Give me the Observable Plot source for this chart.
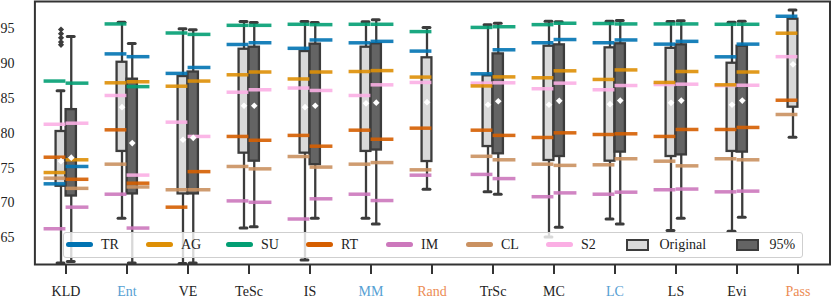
<!DOCTYPE html>
<html>
<head>
<meta charset="utf-8">
<script src="https://cdn.jsdelivr.net/npm/d3@7"></script>
<script src="https://cdn.jsdelivr.net/npm/@observablehq/plot@0.6"></script>
<style>
  html, body { margin: 0; padding: 0; background: #fff; overflow: hidden; }
  #wrap { position: relative; width: 831px; height: 298px; font-family: "Liberation Serif", "Times New Roman", serif; }
  #legend {
    position: absolute; left: 63px; top: 232px; width: 740px; height: 25.5px;
    box-sizing: border-box; border: 1.5px solid #cfcfcf; border-radius: 3px;
    background: rgba(255,255,255,0.8); display: flex; align-items: center;
    padding-left: 1.5px; font-size: 14px; color: #222;
  }
  .item { display: flex; align-items: center; width: 80px; flex: none; }
  .item.wide { width: 110px; }
  .line { width: 27px; height: 5px; border-radius: 3px; margin-right: 8.5px; flex: none; }
  .patch { width: 23px; height: 12px; box-sizing: border-box; border: 2px solid #3c3c3c; margin-right: 11px; flex: none; }
</style>
</head>
<body>
<div id="wrap"><div id="chart"></div><div id="legend"></div></div>
<script>
// ---------- data ----------
const categories = ["KLD","Ent","VE","TeSc","IS","MM","Rand","TrSc","MC","LC","LS","Evi","Pass"];
const labelColors = ["#222","#56a0d3","#222","#222","#222","#56a0d3","#ec8c54","#222","#222","#56a0d3","#222","#222","#ec8c54"];
const yTicks = [65, 70, 75, 80, 85, 90, 95];

// Original box statistics
const origLow  = [61.4, 67.8, 61.3, 66.4, 61.8, 67.8, 71.97, 71.6, 65.1, 67.7, 66.05, 65.95, 79.44];
const origQ1   = [72.4, 77.4, 71.3, 77.15, 77.15, 77.4, 75.95, 78.1, 76.1, 76.0, 76.67, 77.4, 83.75];
const origQ3   = [80.26, 90.2, 88.15, 92.07, 91.74, 92.36, 90.84, 88.25, 92.5, 92.27, 92.2, 90.06, 96.38];
const origHigh = [86.1, 95.95, 95.0, 96.05, 96.05, 96.0, 95.2, 95.6, 96.1, 96.1, 96.05, 95.95, 97.7];
const origMean = [76.0, 83.75, 79.07, 83.95, 83.75, 84.3, 84.47, 84.1, 84.1, 84.18, 84.38, 84.1, 89.9];
const kldFliers = [94.9, 94.3, 93.7, 93.1, 92.7];

// 95% box statistics
const p95Low  = [61.6, 61.4, 61.4, 66.6, 67.8, 67.0, null, 71.26, 66.5, 67.0, 67.8, 67.95, null];
const p95Q1   = [71.0, 71.3, 71.3, 76.0, 75.5, 77.6, null, 77.06, 76.67, 77.3, 76.9, 77.3, null];
const p95Q3   = [83.4, 87.77, 88.8, 92.36, 92.8, 92.85, null, 91.4, 92.7, 92.85, 92.7, 92.5, null];
const p95High = [93.9, 92.9, 94.85, 95.9, 95.9, 96.3, null, 95.8, 96.0, 96.2, 96.15, 96.1, null];
const p95Mean = [76.5, 78.6, 79.35, 83.95, 83.95, 84.4, null, 84.6, 84.66, 84.7, 84.7, 84.7, null];

// Method markers (left = Original, right = 95%)
const methodNames  = ["TR","AG","SU","RT","IM","CL","S2"];
const methodColors = ["#0173b2","#de8f05","#029e73","#d55e00","#cc78bc","#ca9161","#fbafe4"];
const trLeft  = [72.75, 91.4, 88.6, 92.75, 92.2, 92.99, 91.8, 88.54, 93.0, 93.0, 92.8, 90.98, 96.8];
const trRight = [75.24, 91.0, 89.45, 93.0, 93.4, 93.2, null, 91.99, 93.46, 93.4, 93.2, 92.8, null];
const agLeft  = [74.37, 87.25, 86.76, 88.4, 87.8, 88.87, 88.07, 86.8, 87.97, 87.73, 87.3, 86.96, 94.37];
const agRight = [76.2, 87.4, 87.5, 88.8, 88.8, 89.0, null, 88.1, 88.97, 89.1, 88.87, 88.8, null];
const suLeft  = [87.5, 95.7, 94.4, 95.5, 95.65, 95.65, 94.6, 95.2, 95.6, 95.76, 95.7, 95.65, null];
const suRight = [87.2, 86.7, 94.2, 95.5, 95.6, 95.65, null, 95.3, 95.8, 95.7, 95.7, 95.65, null];
const rtLeft  = [76.57, 80.5, 69.4, 79.55, 79.7, 80.45, 80.74, 80.45, 79.4, 79.83, 79.55, 80.55, 84.75];
const rtRight = [73.4, 72.84, 74.5, 79.0, 78.15, 79.15, null, 79.7, 80.07, 79.93, 80.55, 80.84, null];
const imLeft  = [66.3, 71.26, null, 70.3, 67.7, 71.26, 73.99, 74.1, 70.9, 71.26, 71.9, 71.6, null];
const imRight = [69.4, 66.4, null, 70.1, 70.6, 70.35, null, 73.5, 71.45, 71.55, 72.0, 71.7, null];
const clLeft  = [73.56, 75.57, 71.9, 75.24, 76.67, 75.57, 74.76, 76.7, 75.57, 75.48, 76.0, 76.35, 82.7];
const clRight = [72.1, 72.3, 71.9, 74.9, 75.15, 75.8, null, 76.2, 75.4, 76.35, 75.33, 76.2, null];
const s2Left  = [81.3, 85.43, 81.6, 85.9, 86.5, 85.43, 87.3, 87.2, 86.4, 86.25, 87.0, 86.85, 91.0];
const s2Right = [81.45, 74.0, 79.55, 86.25, 86.15, 86.96, null, 87.25, 87.2, 86.86, 87.05, 86.9, null];

// ---------- tables ----------
const leftVals  = [trLeft, agLeft, suLeft, rtLeft, imLeft, clLeft, s2Left];
const rightVals = [trRight, agRight, suRight, rtRight, imRight, clRight, s2Right];
const drawOrder = [6, 5, 4, 3, 2, 1, 0]; // S2 drawn first, TR last
function markerRows(vals) {
  return drawOrder.flatMap(m => categories.map((cat, i) => ({cat, method: methodNames[m], color: methodColors[m], value: vals[m][i]})))
    .filter(d => d.value != null);
}
const leftMarkers = markerRows(leftVals);
const rightMarkers = markerRows(rightVals);

const origBoxes = categories.map((cat, i) => ({cat, lo: origLow[i], q1: origQ1[i], q3: origQ3[i], hi: origHigh[i], mean: origMean[i]}));
const p95Boxes = categories.map((cat, i) => ({cat, lo: p95Low[i], q1: p95Q1[i], q3: p95Q3[i], hi: p95High[i], mean: p95Mean[i]}))
  .filter(d => d.q1 != null);
const fliers = kldFliers.map(v => ({cat: "KLD", value: v}));
const catColor = new Map(categories.map((c, i) => [c, labelColors[i]]));

// ---------- styles ----------
const edge = "#3c3c3c";
const half = (829.5 - 34.4) / categories.length / 2; // half band width

const chart = Plot.plot({
  width: 831,
  height: 298,
  marginLeft: 34.4,
  marginRight: 1.5,
  marginTop: 1,
  marginBottom: 34,
  style: {fontFamily: "'Liberation Serif', 'Times New Roman', serif", fontSize: "14px", color: "#222", background: "#fff"},
  x: {domain: categories, padding: 0, label: null},
  y: {domain: [61.17, 98.92], label: null},
  color: {type: "identity"},
  marks: [
    // whiskers
    Plot.ruleX(origBoxes, {x: "cat", y1: "lo", y2: "hi", dx: -5, stroke: edge, strokeWidth: 2.3}),
    Plot.ruleX(p95Boxes, {x: "cat", y1: "lo", y2: "hi", dx: 5.25, stroke: edge, strokeWidth: 2.3}),
    // caps
    Plot.tickY(origBoxes, {x: "cat", y: "lo", insetLeft: half - 8.5, insetRight: half + 1.5, stroke: edge, strokeWidth: 3, strokeLinecap: "round"}),
    Plot.tickY(origBoxes, {x: "cat", y: "hi", insetLeft: half - 8.5, insetRight: half + 1.5, stroke: edge, strokeWidth: 3, strokeLinecap: "round"}),
    Plot.tickY(p95Boxes, {x: "cat", y: "lo", insetLeft: half + 1.75, insetRight: half - 8.75, stroke: edge, strokeWidth: 3, strokeLinecap: "round"}),
    Plot.tickY(p95Boxes, {x: "cat", y: "hi", insetLeft: half + 1.75, insetRight: half - 8.75, stroke: edge, strokeWidth: 3, strokeLinecap: "round"}),
    // boxes
    Plot.barY(origBoxes, {x: "cat", y1: "q1", y2: "q3", insetLeft: half - 10, insetRight: half, fill: "#d9d9d9", stroke: edge, strokeWidth: 2.3}),
    Plot.barY(p95Boxes, {x: "cat", y1: "q1", y2: "q3", insetLeft: half, insetRight: half - 10.5, fill: "#646464", stroke: edge, strokeWidth: 2.3}),
    // method markers
    Plot.tickY(leftMarkers, {x: "cat", y: "value", stroke: "color", strokeWidth: 3.5, strokeOpacity: 0.9, insetLeft: half - 22, insetRight: half}),
    Plot.tickY(rightMarkers, {x: "cat", y: "value", stroke: "color", strokeWidth: 3.5, strokeOpacity: 0.9, insetLeft: half, insetRight: half - 23}),
    // fliers
    Plot.dot(fliers, {x: "cat", y: "value", dx: -5, symbol: "diamond2", r: 2.8, fill: edge, stroke: null}),
    // means
    Plot.dot(origBoxes, {x: "cat", y: "mean", dx: -5, symbol: "diamond2", r: 3, fill: "white", stroke: null}),
    Plot.dot(p95Boxes, {x: "cat", y: "mean", dx: 5.25, symbol: "diamond2", r: 3, fill: "white", stroke: null}),
    // axes
    Plot.axisY({ticks: yTicks, tickSize: 0, tickPadding: 20.4, fontSize: 14, fill: "#222"}),
    Plot.axisX({tickSize: 10, tickPadding: 11.6, fontSize: 14, stroke: "#333", strokeWidth: 2, fill: d => catColor.get(d)}),
    Plot.frame({stroke: "#333", strokeWidth: 2})
  ]
});
document.getElementById("chart").appendChild(chart);

// ---------- legend ----------
const legend = d3.select("#legend");
methodNames.forEach((name, i) => {
  const it = legend.append("div").attr("class", "item");
  it.append("div").attr("class", "line").style("background", methodColors[i]);
  it.append("span").text(name);
});
[["Original", "#d9d9d9"], ["95%", "#646464"]].forEach(([name, fill], i) => {
  const it = legend.append("div").attr("class", i === 0 ? "item wide" : "item");
  it.append("div").attr("class", "patch").style("background", fill);
  it.append("span").text(name);
});
</script>
</body>
</html>
